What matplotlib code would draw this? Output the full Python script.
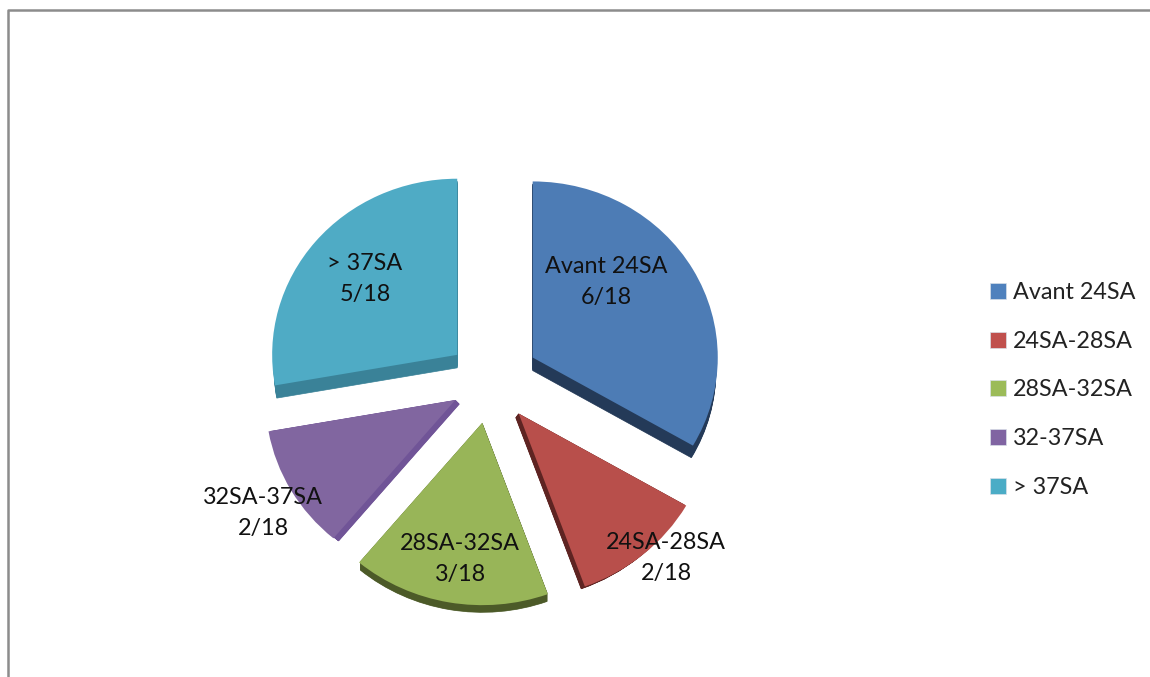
import matplotlib
matplotlib.use('Agg')
import matplotlib.pyplot as plt
from matplotlib.lines import Line2D

# Donnees
labels = ['Avant 24SA', '24SA-28SA', '28SA-32SA', '32SA-37SA', '> 37SA']
legend_labels = ['Avant 24SA', '24SA-28SA', '28SA-32SA', '32-37SA', '> 37SA']
counts = [6, 2, 3, 2, 5]
total = 18

colors = ['#4d7cb5', '#b84f4b', '#98b558', '#8166a0', '#4fabc5']
dark = ['#243a58', '#5e2422', '#4c5a28', '#705497', '#3a8298']
legend_colors = ['#4f81bd', '#c0504d', '#9bbb59', '#8064a2', '#4bacc6']
explode = [0.265, 0.24, 0.24, 0.215, 0.23]
radius = [0.995, 1.04, 1.03, 1.02, 0.995]   # perspective : le bas parait plus grand

W, H = 1150, 677
cx, cy = 490, 381     # centre du camembert en pixels
rx, ry = 186, 177

plt.rcParams['font.family'] = ['Lato', 'DejaVu Sans']

fig = plt.figure(figsize=(W / 100, H / 100), dpi=100)
ax = fig.add_axes([0, 0, 1, 1])

# epaisseur 3D : decalage (px) propre a chaque part
depth = [(0, -13), (-3, -4), (0, -9), (4, -4), (0, -13)]
steps = 14
for s in range(steps, 0, -1):
    side, _ = ax.pie(counts, explode=explode, colors=dark, startangle=90,
                     counterclock=False, wedgeprops={'linewidth': 0.5})
    for w, d, c, r in zip(side, depth, dark, radius):
        x0, y0 = w.center
        w.set_center((x0 + d[0] / rx * s / steps, y0 + d[1] / ry * s / steps))
        w.set_radius(r * 0.99)
        w.set_edgecolor(c)

top, _ = ax.pie(counts, explode=explode, colors=colors, startangle=90,
                counterclock=False, wedgeprops={'linewidth': 0})
for w, r in zip(top, radius):
    w.set_radius(r)

ax.set_aspect('auto')
ax.set_xlim(-cx / rx, (W - cx) / rx)
ax.set_ylim(-(H - cy) / ry, cy / ry)
ax.axis('off')

# etiquettes
label_px = [(606, 282), (666, 558), (460, 559), (263, 513), (365, 279)]
for lab, n, (px, py) in zip(labels, counts, label_px):
    fig.text(px / W, 1 - py / H, f'{lab}\n{n}/{total}', ha='center', va='center',
             fontsize=16.8, color='#111111', linespacing=1.55)

# legende
handles = [plt.Rectangle((0, 0), 1, 1, facecolor=c, edgecolor='#d8e0e8', linewidth=0.5)
           for c in legend_colors]
fig.legend(handles, legend_labels, loc='center left', bbox_to_anchor=(990 / W, 1 - 390 / H),
           frameon=False, fontsize=16.8, labelcolor='#222222', handlelength=0.68,
           handleheight=0.68, handletextpad=0.3, labelspacing=1.19, borderpad=0, borderaxespad=0)

# cadre gris
fig.add_artist(Line2D([8 / W, 8 / W, 1], [0, 1 - 10 / H, 1 - 10 / H],
                      color='#8c8c8c', linewidth=1.8, transform=fig.transFigure))

fig.savefig('out.png', dpi=100)
